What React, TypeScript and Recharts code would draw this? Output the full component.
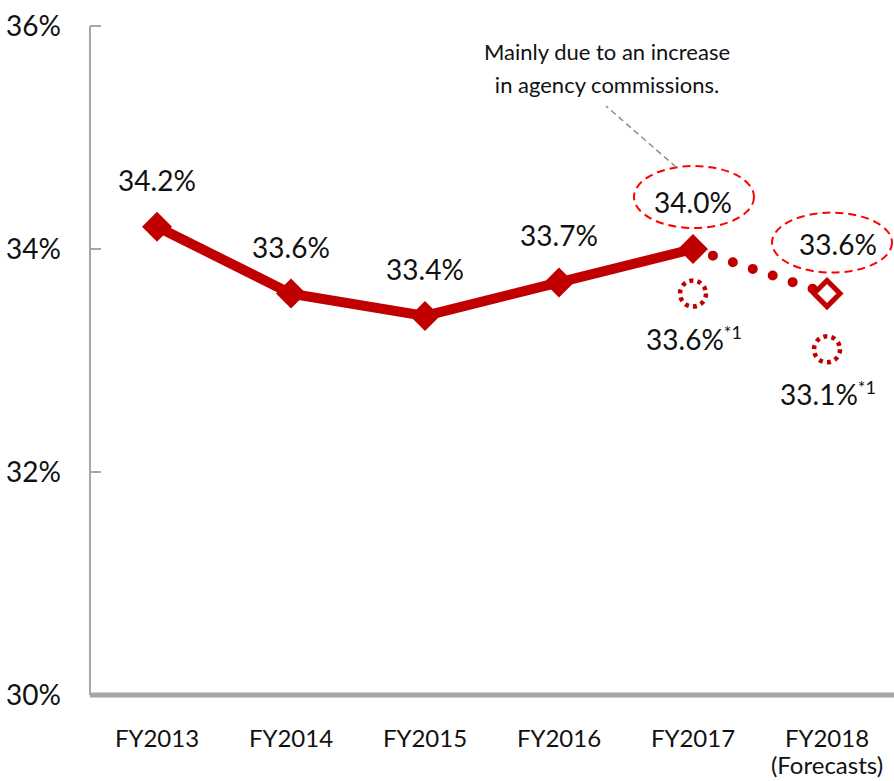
import { LineChart, Line, XAxis, YAxis, LabelList } from 'recharts'

// fiscal years on the x axis
const categories = ['FY2013', 'FY2014', 'FY2015', 'FY2016', 'FY2017', 'FY2018']
// ratio, actual results
const actualRatio = [34.2, 33.6, 33.4, 33.7, 34.0, null]
// ratio, forecast segment (FY2017 -> FY2018)
const forecastRatio = [null, null, null, null, 34.0, 33.6]
// ratio excluding the agency commission effect (*1)
const adjustedRatio = [null, null, null, null, 33.6, 33.1]
const yTicks = [30, 32, 34, 36]
const circledYears = ['FY2017', 'FY2018']
const noteLines = ['Mainly due to an increase', 'in agency commissions.']
const forecastSuffix = '(Forecasts)'
const footnoteMark = '*1'

const RED = '#c00000'
const BRIGHT_RED = '#ff0000'
const AXIS_GREY = '#a6a6a6'
const TEXT = '#111'
const FONT = 'Lato, "Open Sans", sans-serif'

const data = categories.map((name, i) => ({
  name,
  actual: actualRatio[i],
  forecast: forecastRatio[i],
  adjusted: adjustedRatio[i],
}))

const pct = (v: number) => `${Number(v).toFixed(1)}%`

function FilledDiamond(props: any) {
  const { cx, cy, value } = props
  if (cx == null || cy == null || value == null) return null
  const r = 15
  return <path d={`M${cx},${cy - r}L${cx + r},${cy}L${cx},${cy + r}L${cx - r},${cy}Z`} fill={RED} />
}

function HollowDiamond(props: any) {
  const { cx, cy, value, payload } = props
  if (cx == null || cy == null || value == null) return null
  // only the forecast end point gets a marker
  if (payload && payload.actual != null) return null
  const r = 13
  return (
    <path
      d={`M${cx},${cy - r}L${cx + r},${cy}L${cx},${cy + r}L${cx - r},${cy}Z`}
      fill="#fff"
      stroke={RED}
      strokeWidth={5}
    />
  )
}

function DottedCircle(props: any) {
  const { cx, cy, value } = props
  if (cx == null || cy == null || value == null) return null
  return <circle cx={cx} cy={cy} r={13} fill="none" stroke={RED} strokeWidth={4.5} strokeDasharray="4 4.17" />
}

function ActualLabel(props: any) {
  const x = props.x ?? props.viewBox?.x
  const y = props.y ?? props.viewBox?.y
  const { value, index } = props
  if (value == null || x == null) return null
  const circled = circledYears.includes(categories[index])
  return (
    <g>
      {circled && (
        <>
          <ellipse cx={x + 1} cy={y - 52} rx={60} ry={31} fill="none" stroke={BRIGHT_RED} strokeWidth={2} strokeDasharray="8 5" />
          <line x1={x - 17} y1={y - 82} x2={x - 87} y2={y - 143} stroke="#8c8c8c" strokeWidth={1.5} strokeDasharray="6 4" />
          {noteLines.map((t, i) => (
            <text key={t} x={x - 86} y={y - 189 + i * 33} textAnchor="middle" fontSize={22} fill={TEXT} fontFamily={FONT}>
              {t}
            </text>
          ))}
        </>
      )}
      <text x={x} y={y - 36} textAnchor="middle" fontSize={28} fill={TEXT} fontFamily={FONT}>
        {pct(value)}
      </text>
    </g>
  )
}

function ForecastLabel(props: any) {
  const x = props.x ?? props.viewBox?.x
  const y = props.y ?? props.viewBox?.y
  const { value, index } = props
  if (value == null || x == null) return null
  if (actualRatio[index] != null) return null
  return (
    <g>
      <ellipse cx={x + 5} cy={y - 51} rx={60} ry={30} fill="none" stroke={BRIGHT_RED} strokeWidth={2} strokeDasharray="8 5" />
      <text x={x + 11} y={y - 39} textAnchor="middle" fontSize={28} fill={TEXT} fontFamily={FONT}>
        {pct(value)}
      </text>
    </g>
  )
}

function AdjustedLabel(props: any) {
  const x = props.x ?? props.viewBox?.x
  const y = props.y ?? props.viewBox?.y
  const { value } = props
  if (value == null || x == null) return null
  return (
    <text x={x + 1} y={y + 56} textAnchor="middle" fontSize={28} fill={TEXT} fontFamily={FONT}>
      <tspan>{pct(value)}</tspan>
      <tspan dy={-11} fontSize={18}>{footnoteMark}</tspan>
    </text>
  )
}

function YTick(props: any) {
  const { x, y, payload } = props
  return (
    <g>
      <text x={x} y={y + 10} textAnchor="end" fontSize={28} fill={TEXT} fontFamily={FONT}>
        {payload.value}%
      </text>
      <line x1={x + 29} y1={y} x2={x + 40} y2={y} stroke={AXIS_GREY} strokeWidth={2} />
    </g>
  )
}

function XTick(props: any) {
  const { x, y, payload } = props
  const last = payload.value === categories[categories.length - 1]
  return (
    <g>
      <text x={x} y={y + 50} textAnchor="middle" fontSize={24} fill={TEXT} fontFamily={FONT}>
        {payload.value}
      </text>
      {last && (
        <text x={x} y={y + 77} textAnchor="middle" fontSize={24} fill={TEXT} fontFamily={FONT}>
          {forecastSuffix}
        </text>
      )}
    </g>
  )
}

export default function App() {
  return (
    <div style={{ position: 'absolute', left: 0, top: 0, background: '#fff' }}>
      <LineChart
        width={894}
        height={781}
        data={data}
        margin={{ top: 26, right: 0, bottom: 0, left: 0 }}
        style={{ fontFamily: FONT }}
      >
        <XAxis
          dataKey="name"
          height={86}
          padding={{ left: 67, right: 67 }}
          axisLine={{ stroke: AXIS_GREY, strokeWidth: 5 }}
          tickLine={false}
          tickSize={0}
          tick={<XTick />}
          interval={0}
        />
        <YAxis
          width={90}
          domain={[30, 36]}
          ticks={yTicks}
          axisLine={{ stroke: AXIS_GREY, strokeWidth: 2 }}
          tickLine={false}
          tickSize={0}
          tickMargin={29}
          tick={<YTick />}
        />
        <Line
          dataKey="forecast"
          stroke={RED}
          strokeWidth={10}
          strokeLinecap="round"
          strokeDasharray="0 21"
          dot={<HollowDiamond />}
          activeDot={false}
          isAnimationActive={false}
        >
          <LabelList dataKey="forecast" content={<ForecastLabel />} />
        </Line>
        <Line
          dataKey="actual"
          stroke={RED}
          strokeWidth={10}
          dot={<FilledDiamond />}
          activeDot={false}
          isAnimationActive={false}
        >
          <LabelList dataKey="actual" content={<ActualLabel />} />
        </Line>
        <Line
          dataKey="adjusted"
          stroke="none"
          dot={<DottedCircle />}
          activeDot={false}
          isAnimationActive={false}
        >
          <LabelList dataKey="adjusted" content={<AdjustedLabel />} />
        </Line>
      </LineChart>
    </div>
  )
}
